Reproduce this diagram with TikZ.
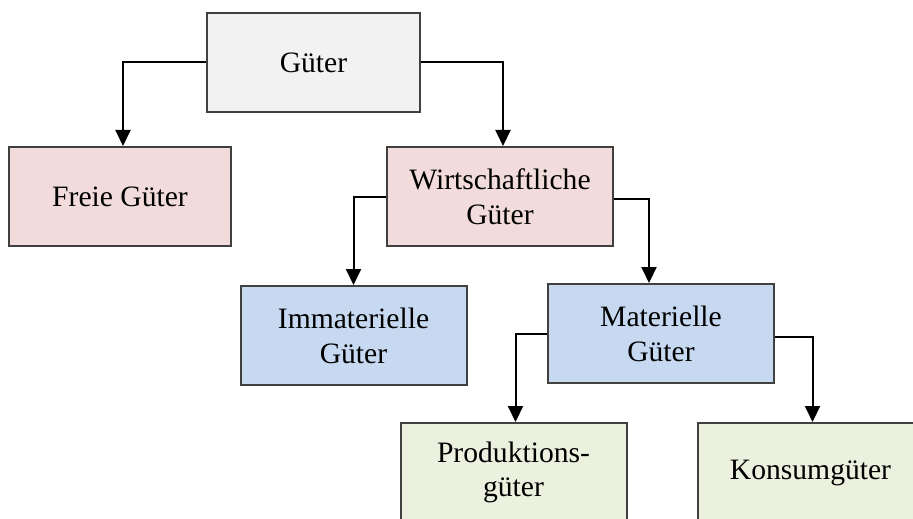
\documentclass[tikz,border=0pt]{standalone}
\usepackage{fontspec}
\setmainfont{Liberation Serif}
\usetikzlibrary{positioning,arrows.meta}

\definecolor{grau}{HTML}{F2F2F2}
\definecolor{rosa}{HTML}{F2DCDB}
\definecolor{blau}{HTML}{C6D9F1}
\definecolor{gruen}{HTML}{EBF1DE}

\begin{document}
\begin{tikzpicture}[on grid,
    box/.style={draw=black!75,line width=1pt,minimum width=113pt,minimum height=49.5pt,
                align=center,inner sep=2pt,font=\fontsize{14.8}{17.4}\selectfont},
    pfeil/.style={line width=1pt,-{Triangle[width=7.5pt,length=8pt]}}]
    \path[use as bounding box,clip] (0,0) rectangle (456.5pt,-259pt);
    \node[box,fill=grau,minimum width=106.5pt] (gueter) at (156.75pt,-31.25pt) {Güter};
    \node[box,fill=rosa,minimum width=111pt] (freie) [below left=67pt and 96.75pt of gueter] {Freie Güter};
    \node[box,fill=rosa] (wirt) [below right=67pt and 93.25pt of gueter] {Wirtschaftliche\\Güter};
    \node[box,fill=blau] (immat) [below left=69.5pt and 73.25pt of wirt] {Immaterielle\\Güter};
    \node[box,fill=blau] (mat) [below right=68.5pt and 80.5pt of wirt] {Materielle\\Güter};
    \node[box,fill=gruen] (prod) [below left=69.5pt and 73.75pt of mat] {Produktions-\\güter};
    \node[box,fill=gruen] (konsum) [below right=69.5pt and 74.75pt of mat] {Konsumgüter};
    \draw[pfeil] (gueter.west) -| ([xshift=1.5pt]freie.north);
    \draw[pfeil] (gueter.east) -| ([xshift=1.5pt]wirt.north);
    \draw[pfeil] (wirt.west) -| (immat.north);
    \draw[pfeil] ([yshift=-1pt]wirt.east) -| ([xshift=-6pt]mat.north);
    \draw[pfeil] (mat.west) -| ([xshift=1pt]prod.north);
    \draw[pfeil] ([yshift=-1.5pt]mat.east) -| ([xshift=1pt]konsum.north);
\end{tikzpicture}
\end{document}
